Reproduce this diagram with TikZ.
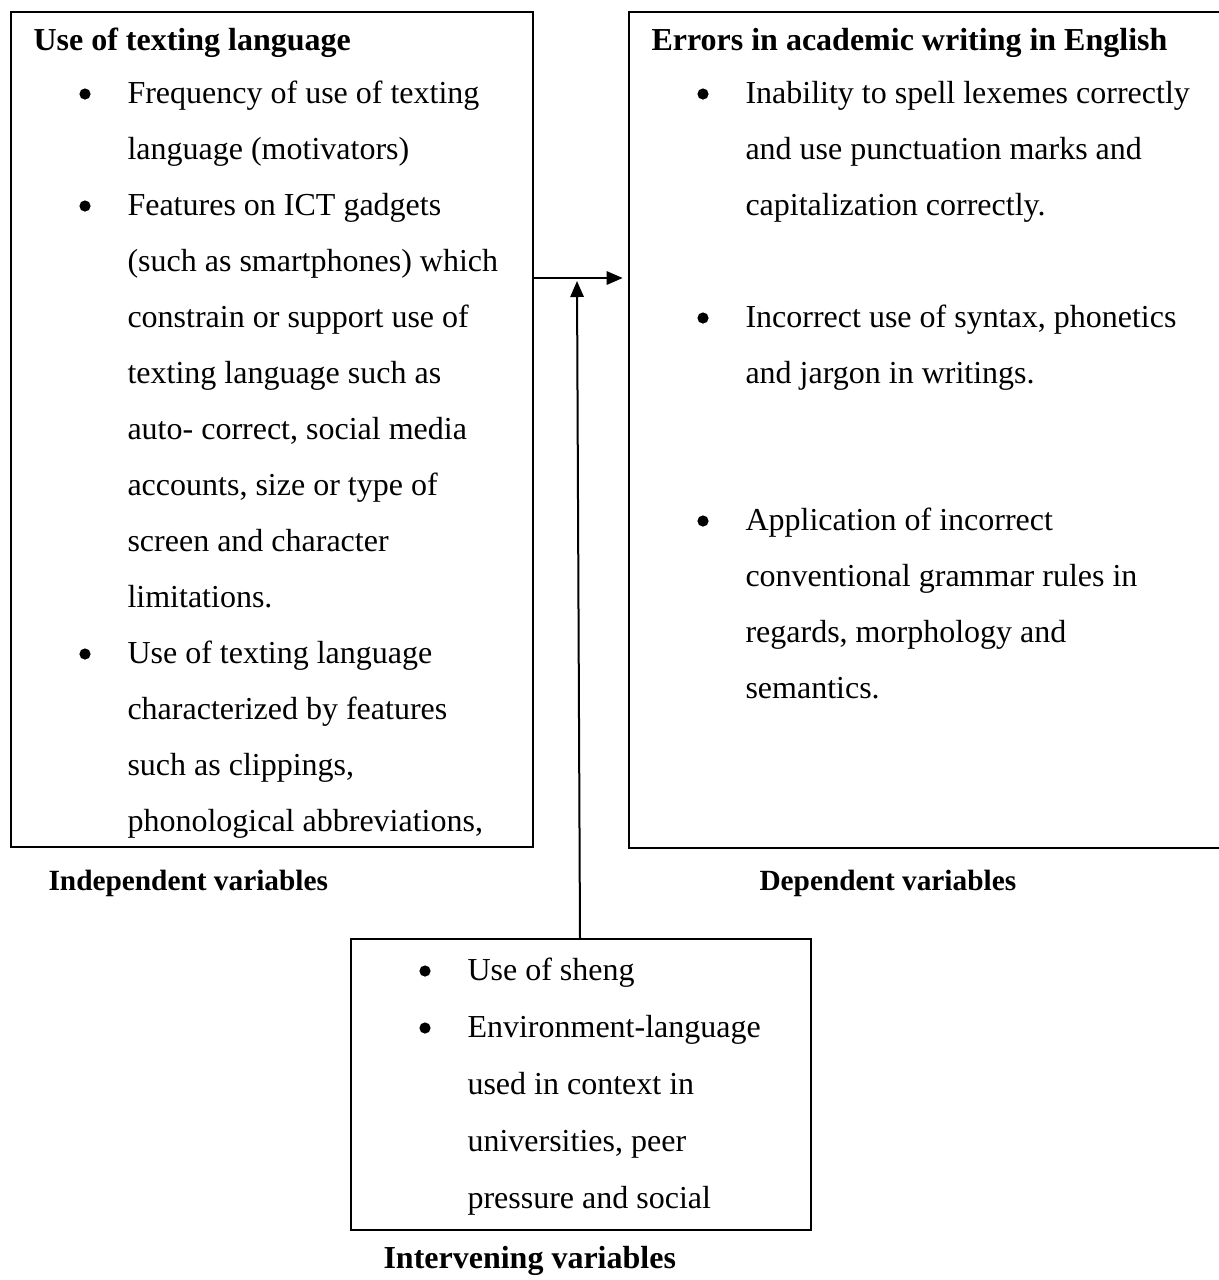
\documentclass[tikz,border=0pt]{standalone}
\usepackage{fontspec}
\setmainfont{Liberation Serif}
\usetikzlibrary{arrows.meta}

\begin{document}
\begin{tikzpicture}[x=0.375pt,y=-0.375pt,
    varbox/.style={draw,line width=0.75pt,inner sep=0pt,anchor=north west},
    txt/.style={anchor=base west,inner sep=0pt,font=\fontsize{12pt}{14pt}\selectfont},
    hd/.style={txt,font=\fontsize{12pt}{14pt}\selectfont\bfseries},
    lbl/.style={txt,font=\fontsize{11pt}{13pt}\selectfont\bfseries},
    bul/.style={circle,fill,inner sep=0pt,minimum size=4.2pt},
    arr/.style={line width=0.75pt,-{Triangle[length=6pt,width=5pt]}}]
        \useasboundingbox (0,0) rectangle (1219,1280);
        % рамки
        \node[varbox,minimum width=195.75pt,minimum height=313.125pt] (indep) at (10,11) {};
        \node[varbox,minimum width=224.25pt,minimum height=313.5pt] (dep) at (628,11) {};
        \node[varbox,minimum width=172.5pt,minimum height=109.125pt] (interv) at (350,938) {};

        % независимые переменные
        \node[hd] (ih) at (33,50) {Use of texting language};
        \node[bul] (ib1) at (85,94) {};
        \node[txt] (i1) at (127,103) {Frequency of use of texting};
        \node[txt] (i2) at (127,159) {language (motivators)};
        \node[bul] (ib2) at (85,206) {};
        \node[txt] (i3) at (127,215) {Features on ICT gadgets};
        \node[txt] (i4) at (127,271) {(such as smartphones) which};
        \node[txt] (i5) at (127,327) {constrain or support use of};
        \node[txt] (i6) at (127,383) {texting language such as};
        \node[txt] (i7) at (127,439) {auto- correct, social media};
        \node[txt] (i8) at (127,495) {accounts, size or type of};
        \node[txt] (i9) at (127,551) {screen and character};
        \node[txt] (i10) at (127,607) {limitations.};
        \node[bul] (ib3) at (85,654) {};
        \node[txt] (i11) at (127,663) {Use of texting language};
        \node[txt] (i12) at (127,719) {characterized by features};
        \node[txt] (i13) at (127,775) {such as clippings,};
        \node[txt] (i14) at (127,831) {phonological abbreviations,};

        % зависимые переменные
        \node[hd] (dh) at (651,50) {Errors in academic writing in English};
        \node[bul] (db1) at (703,94) {};
        \node[txt] (d1) at (745,103) {Inability to spell lexemes correctly};
        \node[txt] (d2) at (745,159) {and use punctuation marks and};
        \node[txt] (d3) at (745,215) {capitalization correctly.};
        \node[bul] (db2) at (703,318) {};
        \node[txt] (d4) at (745,327) {Incorrect use of syntax, phonetics};
        \node[txt] (d5) at (745,383) {and jargon in writings.};
        \node[bul] (db3) at (703,521) {};
        \node[txt] (d6) at (745,530) {Application of incorrect};
        \node[txt] (d7) at (745,586) {conventional grammar rules in};
        \node[txt] (d8) at (745,642) {regards, morphology and};
        \node[txt] (d9) at (745,698) {semantics.};

        % промежуточные переменные
        \node[bul] (vb1) at (425,971) {};
        \node[txt] (v1) at (467,980) {Use of sheng};
        \node[bul] (vb2) at (425,1028) {};
        \node[txt] (v2) at (467,1037) {Environment-language};
        \node[txt] (v3) at (467,1094) {used in context in};
        \node[txt] (v4) at (467,1151) {universities, peer};
        \node[txt] (v5) at (467,1208) {pressure and social};

        % подписи
        \node[lbl] (il) at (48,890) {Independent variables};
        \node[lbl] (dl) at (759,890) {Dependent variables};
        \node[hd] (vl) at (383,1268) {Intervening variables};

        % стрелки
        \coordinate (hline) at (0,278);
        \coordinate (meet) at (577,281);
        \coordinate (foot) at (580,0);
        \draw[arr,shorten >=2pt] (indep.east |- hline) -- (dep.west |- hline);
        \draw[arr] (interv.north -| foot) -- (meet);
    \end{tikzpicture}
\end{document}
